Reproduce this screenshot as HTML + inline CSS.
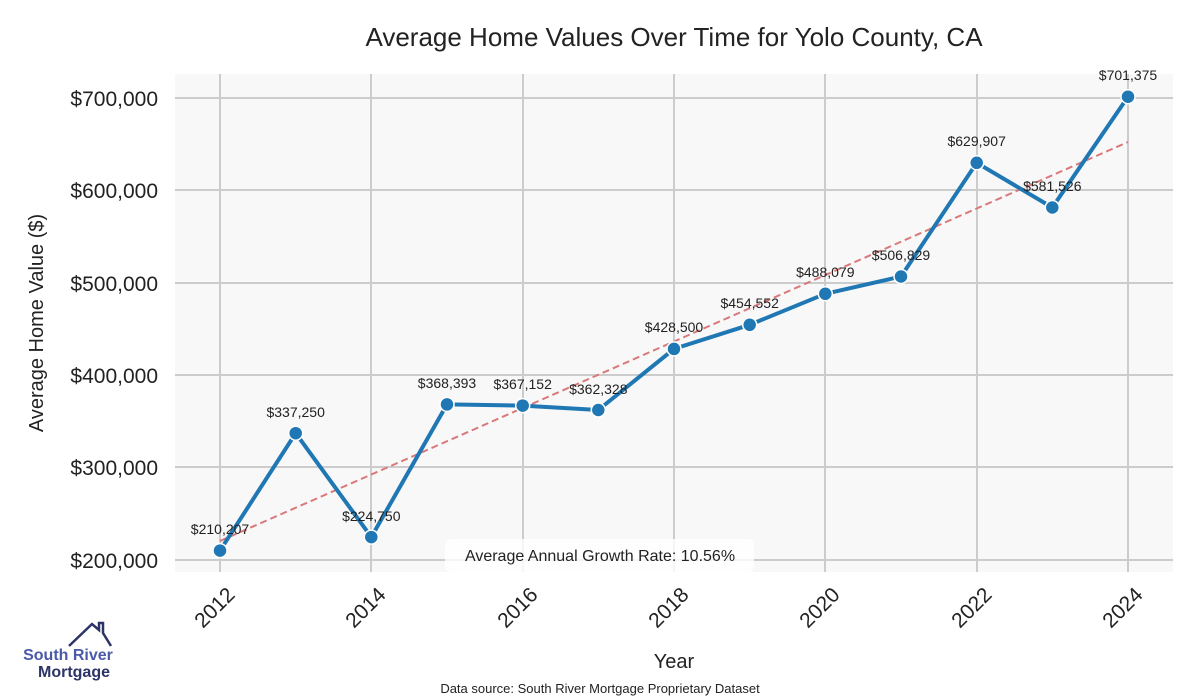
<!DOCTYPE html>
<html><head><meta charset="utf-8"><style>body{margin:0;background:#fff}svg{display:block}</style></head><body>
<svg width="1200" height="700" xmlns="http://www.w3.org/2000/svg" font-family="Liberation Sans, sans-serif">
<rect width="1200" height="700" fill="#fff"/>
<text x="674" y="46" font-size="26" text-anchor="middle" fill="#222">Average Home Values Over Time for Yolo County, CA</text>
<rect x="175" y="74" width="998" height="498" fill="#f8f8f8"/>
<g stroke="#cccccc" stroke-width="2">
<line x1="175" x2="1173" y1="98" y2="98"/><line x1="175" x2="1173" y1="190" y2="190"/><line x1="175" x2="1173" y1="283" y2="283"/><line x1="175" x2="1173" y1="375" y2="375"/><line x1="175" x2="1173" y1="467" y2="467"/><line x1="175" x2="1173" y1="560" y2="560"/>
<line x1="220" x2="220" y1="74" y2="572"/><line x1="371" x2="371" y1="74" y2="572"/><line x1="523" x2="523" y1="74" y2="572"/><line x1="674" x2="674" y1="74" y2="572"/><line x1="825" x2="825" y1="74" y2="572"/><line x1="977" x2="977" y1="74" y2="572"/><line x1="1128" x2="1128" y1="74" y2="572"/>
</g>
<g font-size="21" fill="#222" text-anchor="end">
<text x="158" y="106">$700,000</text><text x="158" y="198">$600,000</text><text x="158" y="291">$500,000</text><text x="158" y="383">$400,000</text><text x="158" y="475">$300,000</text><text x="158" y="568">$200,000</text>
</g>
<text transform="translate(43,323) rotate(-90)" font-size="20" text-anchor="middle" fill="#222">Average Home Value ($)</text>
<g font-size="21" fill="#222" text-anchor="end">
<text transform="translate(236,596) rotate(-45)">2012</text>
<text transform="translate(387,596) rotate(-45)">2014</text>
<text transform="translate(539,596) rotate(-45)">2016</text>
<text transform="translate(690,596) rotate(-45)">2018</text>
<text transform="translate(841,596) rotate(-45)">2020</text>
<text transform="translate(993,596) rotate(-45)">2022</text>
<text transform="translate(1144,596) rotate(-45)">2024</text>
</g>
<text x="674" y="668" font-size="20" text-anchor="middle" fill="#222">Year</text>
<text x="600" y="693" font-size="13" text-anchor="middle" fill="#222">Data source: South River Mortgage Proprietary Dataset</text>
<line x1="220" y1="541" x2="1128" y2="142" stroke="#d9797b" stroke-width="2" stroke-dasharray="7,4"/>
<polyline fill="none" stroke="#1f77b4" stroke-width="4" stroke-linejoin="round" points="220,550.6 295.7,433.2 371.3,537.1 447,404.4 522.7,405.6 598.3,410 674,348.9 749.7,324.8 825.3,293.8 901,276.5 976.7,162.8 1052.3,207.5 1128,96.7"/>
<g fill="#1f77b4" stroke="#fff" stroke-width="1.5">
<circle cx="220" cy="550.6" r="7"/><circle cx="295.7" cy="433.2" r="7"/><circle cx="371.3" cy="537.1" r="7"/><circle cx="447" cy="404.4" r="7"/><circle cx="522.7" cy="405.6" r="7"/><circle cx="598.3" cy="410" r="7"/><circle cx="674" cy="348.9" r="7"/><circle cx="749.7" cy="324.8" r="7"/><circle cx="825.3" cy="293.8" r="7"/><circle cx="901" cy="276.5" r="7"/><circle cx="976.7" cy="162.8" r="7"/><circle cx="1052.3" cy="207.5" r="7"/><circle cx="1128" cy="96.7" r="7"/>
</g>
<g font-size="14" fill="#222" text-anchor="middle">
<text x="220" y="534">$210,207</text><text x="295.7" y="417">$337,250</text><text x="371.3" y="521">$224,750</text><text x="447" y="388">$368,393</text><text x="522.7" y="389">$367,152</text><text x="598.3" y="394">$362,328</text><text x="674" y="332">$428,500</text><text x="749.7" y="308">$454,552</text><text x="825.3" y="277">$488,079</text><text x="901" y="260">$506,829</text><text x="976.7" y="146">$629,907</text><text x="1052.3" y="191">$581,526</text><text x="1128" y="80">$701,375</text>
</g>
<rect x="445" y="539" width="309" height="33" rx="6" fill="#fff" fill-opacity="0.8"/>
<text x="600" y="561" font-size="16" text-anchor="middle" fill="#222">Average Annual Growth Rate: 10.56%</text>
<polyline points="69,646 92,624 99,630 99,623 103,623 103,633 111,646" fill="none" stroke="#2d3466" stroke-width="2.5"/>
<text x="68" y="660" font-size="16" font-weight="bold" fill="#4a5aa8" text-anchor="middle">South River</text>
<text x="74" y="677" font-size="16" font-weight="bold" fill="#2d3466" text-anchor="middle">Mortgage</text>
</svg>
</body></html>
